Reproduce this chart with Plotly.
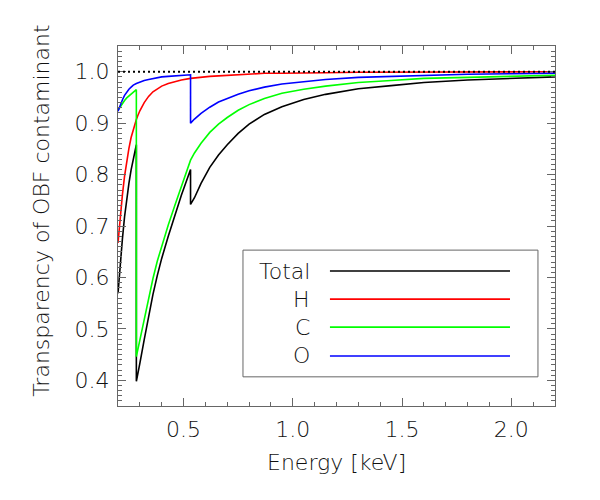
import plotly.graph_objects as go

# Energies [keV]; edge energies are repeated so the jumps are vertical
energy = [0.20, 0.21, 0.22, 0.23, 0.24, 0.25, 0.26, 0.27, 0.284, 0.284,
          0.29, 0.30, 0.32, 0.34, 0.36, 0.38, 0.40, 0.43, 0.46, 0.49,
          0.532, 0.532, 0.55, 0.58, 0.62, 0.66, 0.70, 0.75, 0.80, 0.87,
          0.95, 1.05, 1.15, 1.30, 1.45, 1.60, 1.80, 2.00, 2.20]

trans_h = [0.667, 0.718, 0.760, 0.797, 0.826, 0.851, 0.872, 0.889, 0.907, 0.907,
           0.914, 0.924, 0.940, 0.952, 0.961, 0.967, 0.972, 0.977, 0.981, 0.984,
           0.987, 0.987, 0.988, 0.990, 0.991, 0.992, 0.993, 0.995, 0.996, 0.997,
           0.997, 0.998, 0.998, 0.999, 0.999, 0.999, 1.000, 1.000, 1.000]

trans_c = [0.925, 0.932, 0.939, 0.944, 0.949, 0.953, 0.957, 0.960, 0.965, 0.446,
           0.458, 0.478, 0.518, 0.561, 0.598, 0.632, 0.662, 0.702, 0.740, 0.778,
           0.828, 0.828, 0.842, 0.861, 0.882, 0.898, 0.911, 0.925, 0.936, 0.948,
           0.958, 0.966, 0.972, 0.979, 0.983, 0.987, 0.989, 0.991, 0.993]

trans_o = [0.923, 0.935, 0.945, 0.954, 0.961, 0.966, 0.970, 0.974, 0.977, 0.977,
           0.978, 0.980, 0.983, 0.985, 0.987, 0.988, 0.990, 0.991, 0.992, 0.993,
           0.994, 0.900, 0.908, 0.919, 0.931, 0.941, 0.948, 0.956, 0.963, 0.970,
           0.976, 0.981, 0.985, 0.989, 0.991, 0.993, 0.995, 0.996, 0.997]

trans_total = [0.569, 0.626, 0.674, 0.718, 0.753, 0.783, 0.809, 0.831, 0.858, 0.398,
               0.409, 0.433, 0.479, 0.526, 0.567, 0.604, 0.637, 0.680, 0.720, 0.760,
               0.810, 0.742, 0.755, 0.783, 0.814, 0.838, 0.858, 0.880, 0.898, 0.917,
               0.932, 0.946, 0.956, 0.967, 0.973, 0.979, 0.984, 0.987, 0.990]

series = [
    ("Total", trans_total, "#000000"),
    ("H", trans_h, "#ff0000"),
    ("C", trans_c, "#00ff00"),
    ("O", trans_o, "#0000ff"),
]

FONT = dict(family="DejaVu Sans", size=22, color="#111111", weight=200)
AXIS_COLOR = "#666666"

fig = go.Figure()

fig.add_hline(y=1.0, line=dict(color="black", width=2, dash="2px,3px"))

for name, vals, col in series:
    fig.add_trace(go.Scatter(
        x=energy, y=vals, mode="lines", name=name,
        line=dict(color=col, width=1.6), showlegend=False,
    ))

# legend drawn by hand: label on the left, line sample on the right
rows_y = [0.375, 0.297, 0.219, 0.139]
fig.add_shape(type="rect", xref="paper", yref="paper",
              x0=0.286, x1=0.961, y0=0.081, y1=0.433,
              line=dict(color=AXIS_COLOR, width=1))
for (name, _, col), ry in zip(series, rows_y):
    fig.add_shape(type="line", xref="paper", yref="paper",
                  x0=0.485, x1=0.897, y0=ry, y1=ry,
                  line=dict(color=col, width=1.6))
    fig.add_annotation(text=name, xref="paper", yref="paper",
                       x=0.445, y=ry, xanchor="right", yanchor="middle",
                       showarrow=False, font=FONT)

fig.add_annotation(text="Energy [keV]", xref="paper", yref="paper",
                   x=0.5, y=-0.158, xanchor="center", yanchor="middle",
                   showarrow=False, font=FONT)
fig.add_annotation(text="Transparency of OBF contaminant", xref="paper", yref="paper",
                   x=-0.174, y=0.542, xanchor="center", yanchor="middle",
                   textangle=-90, showarrow=False, font=FONT)

axis_common = dict(
    showgrid=False, zeroline=False, showline=True, linecolor=AXIS_COLOR,
    linewidth=1, mirror="ticks", ticks="inside", tickcolor=AXIS_COLOR,
    ticklen=8, tickwidth=1, tickfont=FONT, tickformat=".1f",
)

fig.update_xaxes(range=[0.2, 2.2], tick0=0.5, dtick=0.5, ticklabelstandoff=4,
                 minor=dict(dtick=0.1, tick0=0.2, ticks="inside", ticklen=4,
                            tickcolor=AXIS_COLOR),
                 **axis_common)
fig.update_yaxes(range=[0.35, 1.05], tick0=0.4, dtick=0.1, ticklabelstandoff=3,
                 minor=dict(dtick=0.01, ticks="inside", ticklen=4,
                            tickcolor=AXIS_COLOR),
                 **axis_common)

# the page puts the figure 8px in from the corner, so margins are shifted
fig.update_layout(
    width=592, height=492,
    margin=dict(l=110, r=45, t=38, b=94),
    plot_bgcolor="white", paper_bgcolor="white",
)

fig.write_html("out.html")
